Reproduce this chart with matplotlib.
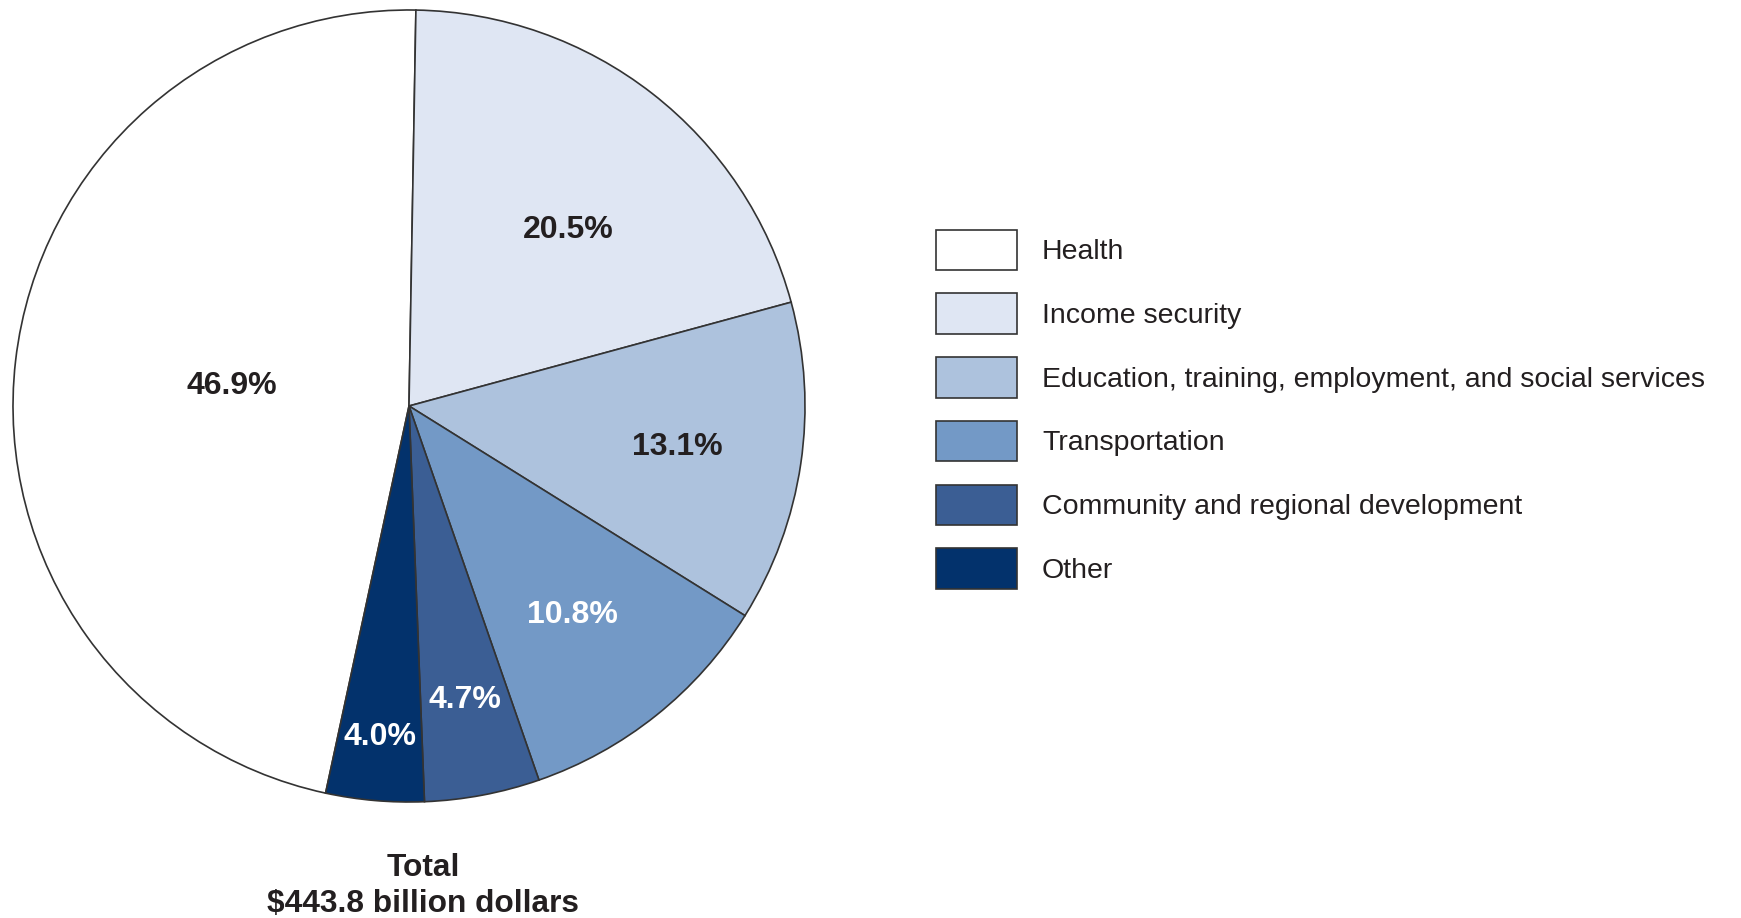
import matplotlib
matplotlib.use("Agg")
import matplotlib.pyplot as plt
import numpy as np

# Spending shares by function (percent of total)
categories = [
    "Health",
    "Income security",
    "Education, training, employment, and social services",
    "Transportation",
    "Community and regional development",
    "Other",
]
shares = [46.9, 20.5, 13.1, 10.8, 4.7, 4.0]
total_text = ["Total", "$443.8 billion dollars"]

colors = ["#ffffff", "#dfe6f3", "#adc2dd", "#7399c6", "#3b5e94", "#03326c"]
label_colors = ["#231f20", "#231f20", "#231f20", "#ffffff", "#ffffff", "#ffffff"]
# label placement: fraction of radius and angular nudge (degrees)
label_radius = [0.45, 0.60, 0.685, 0.67, 0.755, 0.84]
label_nudge = [0.0, -4.2, -0.3, -0.5, 0.0, 0.0]

plt.rcParams["font.family"] = ["Liberation Sans", "DejaVu Sans"]

W, H = 1741, 918
fig = plt.figure(figsize=(W / 100, H / 100), dpi=100)
ax = fig.add_axes([0, 0, 1, 1])

cx, cy, R = 409, H - 406, 396
wedges, _ = ax.pie(
    shares,
    colors=colors,
    startangle=-102.16,
    counterclock=False,
    center=(cx, cy),
    radius=R,
    wedgeprops=dict(edgecolor="#333333", linewidth=1.2),
    frame=True,
)
ax.set_xlim(0, W)
ax.set_ylim(0, H)
ax.set_aspect("equal")
ax.axis("off")

for w, val, col, rf, dn in zip(wedges, shares, label_colors, label_radius, label_nudge):
    mid = np.deg2rad((w.theta1 + w.theta2) / 2 + dn)
    ax.text(cx + rf * R * np.cos(mid), cy + rf * R * np.sin(mid), f"{val:.1f}%",
            ha="center", va="center", fontsize=23, fontweight="bold", color=col)

# total caption under the pie
ax.text(423, H - 875.7, total_text[0], ha="center", va="baseline",
        fontsize=22.8, fontweight="bold", color="#231f20")
ax.text(423, H - 911.7, total_text[1], ha="center", va="baseline",
        fontsize=22.8, fontweight="bold", color="#231f20")

leg = ax.legend(
    wedges, categories,
    loc="upper left", bbox_to_anchor=(936, H - 229.5), bbox_transform=ax.transData,
    frameon=False, fontsize=20.5, handlelength=2.84, handleheight=1.822,
    labelspacing=0.81, handletextpad=0.88, borderpad=0, borderaxespad=0,
)
for t in leg.get_texts():
    t.set_color("#231f20")

fig.savefig("out.png", dpi=100, facecolor="white")
